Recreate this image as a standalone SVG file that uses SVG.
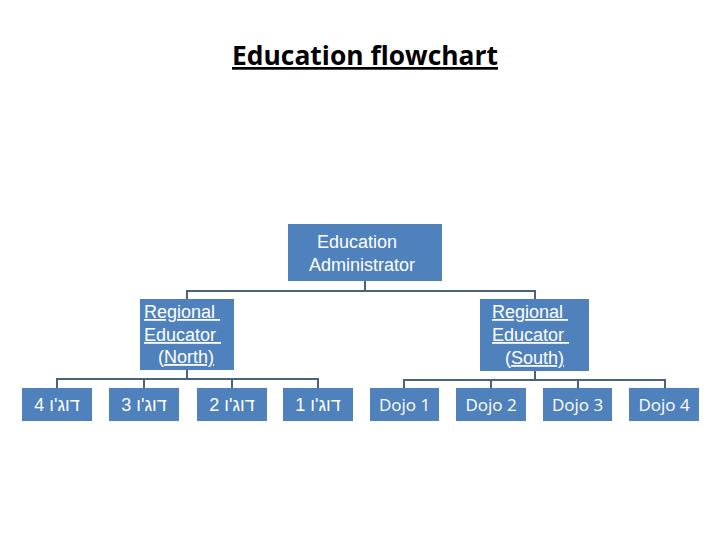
<svg xmlns="http://www.w3.org/2000/svg" width="720" height="540" viewBox="0 0 720 540">
<style>
.box{fill:#4F81BD}
.t{font-family:"Liberation Sans",Arial,sans-serif;font-size:18px;fill:#FFFFFF}
.d{font-family:"Open Sans","Liberation Sans",sans-serif;font-size:17px;fill:#FFFFFF;text-anchor:middle}
.h{font-family:"Liberation Sans",Arial,sans-serif;font-size:18px;fill:#FFFFFF;text-anchor:middle}
.u{text-decoration:underline}
.c{fill:none;stroke:#4B6379;stroke-width:2}
</style>
<rect width="720" height="540" fill="#FFFFFF"/>
<text x="365" y="65" text-anchor="middle" font-family="'Open Sans','Liberation Sans',sans-serif" font-weight="700" font-size="27" fill="#000000" text-decoration="underline" textLength="266" lengthAdjust="spacingAndGlyphs">Education flowchart</text>
<g id="connectors">
<path class="c" d="M365 281V291M187 291H535M187 290V299M535 290V299"/>
<path class="c" d="M187 370V379M57 379H318M57 378V388M144 378V388M232 378V388M318 378V388"/>
<path class="c" d="M535 371V380M404 380H665M404 379V388M491 379V388M578 379V388M665 379V388"/>
</g>
<g id="admin">
<rect class="box" x="288" y="224" width="154" height="57"/>
<text class="t" x="317" y="248">Education</text>
<text class="t" x="309" y="271">Administrator</text>
</g>
<g id="north">
<rect class="box" x="140" y="299" width="94" height="71"/>
<text class="t u" x="144" y="318" xml:space="preserve">Regional </text>
<text class="t u" x="144" y="341" xml:space="preserve">Educator </text>
<text class="t" x="158" y="363">(<tspan class="u">North)</tspan></text>
</g>
<g id="south">
<rect class="box" x="480" y="299" width="109" height="72"/>
<text class="t u" x="492" y="318" xml:space="preserve">Regional </text>
<text class="t u" x="492" y="341" xml:space="preserve">Educator </text>
<text class="t" x="505" y="364">(<tspan class="u">South)</tspan></text>
</g>
<g id="heb4"><rect class="box" x="22" y="388" width="70" height="33"/><text class="h" x="57" y="411" direction="rtl">דוג'ו 4</text></g>
<g id="heb3"><rect class="box" x="109" y="388" width="70" height="33"/><text class="h" x="144" y="411" direction="rtl">דוג'ו 3</text></g>
<g id="heb2"><rect class="box" x="197" y="388" width="70" height="33"/><text class="h" x="232" y="411" direction="rtl">דוג'ו 2</text></g>
<g id="heb1"><rect class="box" x="283" y="388" width="70" height="33"/><text class="h" x="318" y="411" direction="rtl">דוג'ו 1</text></g>
<g id="dojo1"><rect class="box" x="370" y="388" width="69" height="33"/><text class="d" x="404.5" y="411">Dojo 1</text></g>
<g id="dojo2"><rect class="box" x="456" y="388" width="70" height="33"/><text class="d" x="491" y="411">Dojo 2</text></g>
<g id="dojo3"><rect class="box" x="543" y="388" width="69" height="33"/><text class="d" x="577.5" y="411">Dojo 3</text></g>
<g id="dojo4"><rect class="box" x="629" y="388" width="70" height="33"/><text class="d" x="664" y="411">Dojo 4</text></g>
</svg>
